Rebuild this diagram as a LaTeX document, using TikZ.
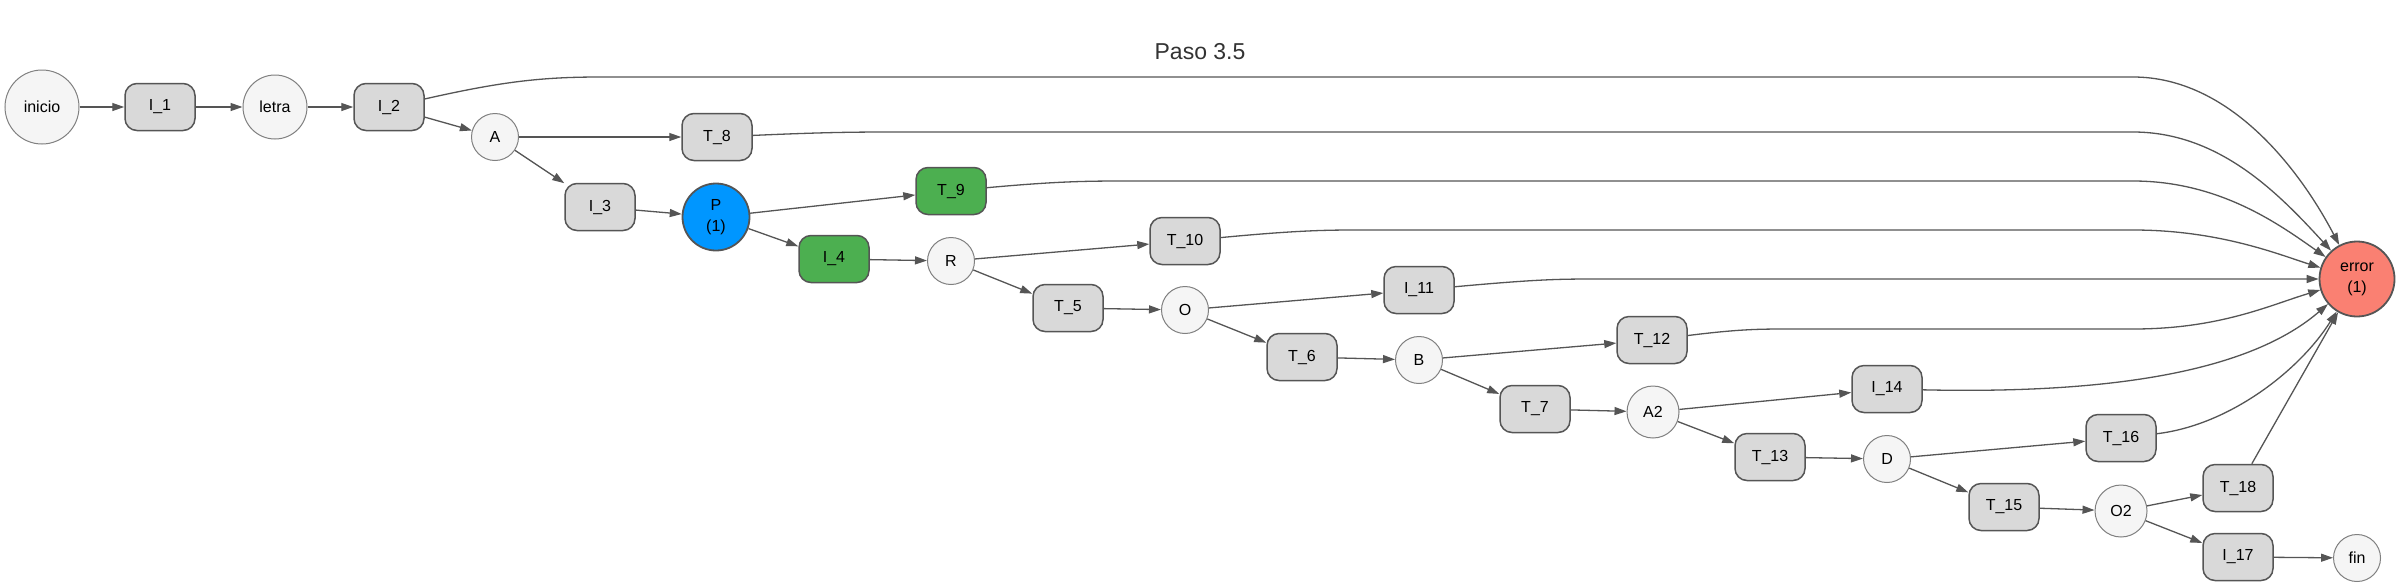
\documentclass[tikz,border=0pt]{standalone}
\usepackage{fontspec}
\setmainfont{Liberation Sans}
\usetikzlibrary{arrows.meta}
\definecolor{edgec}{HTML}{555555}
\definecolor{boxfill}{HTML}{D9D9D9}
\definecolor{circfill}{HTML}{F5F5F5}
\definecolor{okgreen}{HTML}{4CAF50}
\definecolor{pblue}{HTML}{0096FF}
\definecolor{errred}{HTML}{FA8072}
\definecolor{bordc}{HTML}{555555}
\definecolor{lightbord}{HTML}{808080}
\begin{document}
\begin{tikzpicture}[x=1pt,y=-1pt,
  every node/.style={font=\fontsize{16}{21}\selectfont, text=black, inner sep=0pt},
  gbox/.style={draw=bordc, line width=1.5pt, fill=boxfill, rounded corners=12pt, minimum width=70pt, minimum height=47pt},
  greenbox/.style={gbox, fill=okgreen},
  st/.style={circle, draw=lightbord, line width=1pt, fill=circfill, minimum size=47pt},
  bigst/.style={st, draw=bordc, line width=1.8pt, align=center},
  conn/.style={draw=edgec, line width=1.3pt, -{Triangle[length=12pt,width=8pt]}},
]
\fill[white] (0,0) rectangle (2400,587);
\useasboundingbox (0,0) rectangle (2400,587);

\node[font=\fontsize{23}{28}\selectfont, text=black!80] (title) at (1200,52) {Paso 3.5};

\node[st, minimum size=74pt] (inicio) at (42,107) {inicio};
\node[gbox] (I1) at (160,107) {I\_1};
\node[st, minimum size=64pt] (letra) at (275,107) {letra};
\node[gbox] (I2) at (389,107) {I\_2};
\node[st] (A) at (495,137) {A};
\node[gbox] (T8) at (717,137) {T\_8};
\node[gbox] (I3) at (600,207) {I\_3};
\node[bigst, fill=pblue, minimum size=67pt] (P) at (716,217) {P\\(1)};
\node[greenbox] (T9) at (951,191) {T\_9};
\node[greenbox] (I4) at (834,259) {I\_4};
\node[st] (R) at (951,261) {R};
\node[gbox] (T10) at (1185,241) {T\_10};
\node[gbox] (T5) at (1068,308) {T\_5};
\node[st] (O) at (1185,310) {O};
\node[gbox] (I11) at (1419,290) {I\_11};
\node[gbox] (T6) at (1302,357) {T\_6};
\node[st] (B) at (1419,360) {B};
\node[gbox] (T12) at (1652,340) {T\_12};
\node[gbox] (T7) at (1535,409) {T\_7};
\node[st, minimum size=52pt] (A2) at (1653,412) {A2};
\node[gbox] (I14) at (1887,389) {I\_14};
\node[gbox] (T13) at (1770,457) {T\_13};
\node[st] (D) at (1887,459) {D};
\node[gbox] (T16) at (2121,438) {T\_16};
\node[gbox] (T15) at (2004,507) {T\_15};
\node[st, minimum size=52pt] (O2) at (2121,511) {O2};
\node[gbox] (T18) at (2238,488) {T\_18};
\node[gbox] (I17) at (2238,557) {I\_17};
\node[st] (fin) at (2357,558) {fin};
\node[bigst, fill=errred, minimum size=75pt] (error) at (2357,279) {error\\(1)};

% main chain
\draw[conn] (inicio) -- (I1);
\draw[conn] (I1) -- (letra);
\draw[conn] (letra) -- (I2);
\draw[conn] (I2) -- (A);
\draw[conn] (A) -- (T8);
\draw[conn] (A) -- (I3);
\draw[conn] (I3) -- (P);
\draw[conn] (P) -- (T9);
\draw[conn] (P) -- (I4);
\draw[conn] (I4) -- (R);
\draw[conn] (R) -- (T10);
\draw[conn] (R) -- (T5);
\draw[conn] (T5) -- (O);
\draw[conn] (O) -- (I11);
\draw[conn] (O) -- (T6);
\draw[conn] (T6) -- (B);
\draw[conn] (B) -- (T12);
\draw[conn] (B) -- (T7);
\draw[conn] (T7) -- (A2);
\draw[conn] (A2) -- (I14);
\draw[conn] (A2) -- (T13);
\draw[conn] (T13) -- (D);
\draw[conn] (D) -- (T16);
\draw[conn] (D) -- (T15);
\draw[conn] (T15) -- (O2);
\draw[conn] (O2) -- (T18);
\draw[conn] (O2) -- (I17);
\draw[conn] (I17) -- (fin);

% edges into error
\draw[conn] (I2) .. controls (500,82) and (540,77) .. (600,77) -- (2133,77) .. controls (2230,77) and (2300,170) .. (error);
\draw[conn] (T8) .. controls (830,132) and (860,132) .. (900,132) -- (2133,132) .. controls (2220,132) and (2280,195) .. (error);
\draw[conn] (T9) .. controls (1060,181) and (1090,181) .. (1130,181) -- (2133,181) .. controls (2220,181) and (2280,225) .. (error);
\draw[conn] (T10) .. controls (1300,230) and (1330,230) .. (1360,230) -- (2133,230) .. controls (2220,230) and (2280,255) .. (error);
\draw[conn] (I11) .. controls (1540,279) and (1560,279) .. (1600,279) -- (error);
\draw[conn] (T12) .. controls (1740,329) and (1760,329) .. (1790,329) -- (2133,329) .. controls (2220,329) and (2270,305) .. (error);
\draw[conn] (I14) .. controls (2150,395) and (2263,360) .. (error);
\draw[conn] (T16) .. controls (2230,425) and (2300,370) .. (error);
\draw[conn] (T18) -- (error);
\end{tikzpicture}
\end{document}
